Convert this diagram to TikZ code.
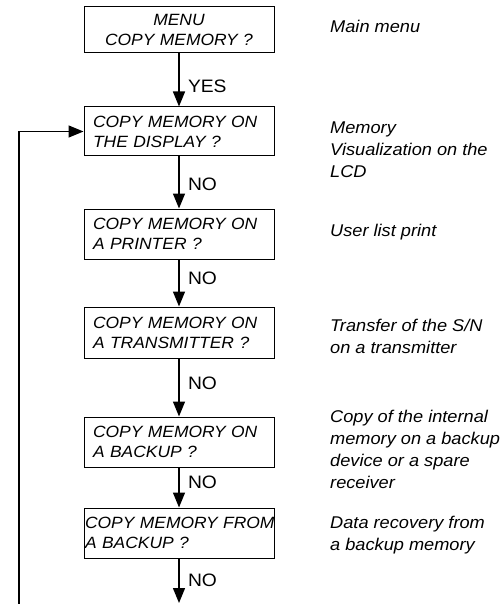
\documentclass[tikz,border=0pt]{standalone}
\usepackage{fontspec}
\setmainfont[FakeStretch=1.07]{Liberation Sans}
\usetikzlibrary{arrows.meta}
\tikzset{
  menubox/.style={draw, line width=1pt, minimum width=190pt, minimum height=50pt,
    inner xsep=9pt, text width=172pt, align=left,
    font=\itshape\fontsize{16.3}{20}\selectfont},
  note/.style={anchor=base west, align=left, inner sep=0pt,
    font=\itshape\fontsize{17}{21.8}\selectfont},
  flow/.style={line width=1.4pt, -{Triangle[length=15pt,width=12pt]}},
  answer/.style={right, xshift=5pt, font=\fontsize{18}{20}\selectfont}
}
\begin{document}
\begin{tikzpicture}[x=1pt,y=-1pt]
    \useasboundingbox (0,0) rectangle (503,604);
    \node[menubox,align=center,minimum height=46pt] (menu) at (179,29.5) {MENU\\COPY MEMORY ?};
    \node[menubox,minimum height=49pt] (display) at (179,131.5) {COPY MEMORY ON\\THE DISPLAY ?};
    \node[menubox] (printer) at (179,234) {COPY MEMORY ON\\A PRINTER ?};
    \node[menubox,minimum height=51pt] (transmitter) at (179,332.5) {COPY MEMORY ON\\A TRANSMITTER ?};
    \node[menubox] (backup) at (179,442) {COPY MEMORY ON\\A BACKUP ?};
    \node[menubox,inner xsep=1pt,text width=188pt] (restore) at (179,533) {\mbox{COPY MEMORY FROM}\\A BACKUP ?};
    \coordinate (exit) at (179,603);
    \coordinate (loop) at (19,604);
    \draw[flow] (menu) -- node[answer,pos=0.62]{YES} (display);
    \draw[flow] (display) -- node[answer,pos=0.53]{NO} (printer);
    \draw[flow] (printer) -- node[answer,pos=0.4]{NO} (transmitter);
    \draw[flow] (transmitter) -- node[answer,pos=0.42]{NO} (backup);
    \draw[flow] (backup) -- node[answer,pos=0.38]{NO} (restore);
    \draw[flow] (restore) -- node[answer,pos=0.5]{NO} (exit);
    \draw[flow] (loop) |- (display.west);
    % descriptions, placed by the baseline of their last line
    \node[note] (mainnote) at (330,33) {Main menu};
    \node[note] (displaynote) at (330,177) {Memory\\Visualization on the\\LCD};
    \node[note] (printernote) at (330,236) {User list print};
    \node[note] (transmitternote) at (330,353) {Transfer of the S/N\\on a transmitter};
    \node[note] (backupnote) at (330,488) {Copy of the internal\\memory on a backup\\device or a spare\\receiver};
    \node[note] (restorenote) at (330,550) {Data recovery from\\a backup memory};
\end{tikzpicture}
\end{document}
